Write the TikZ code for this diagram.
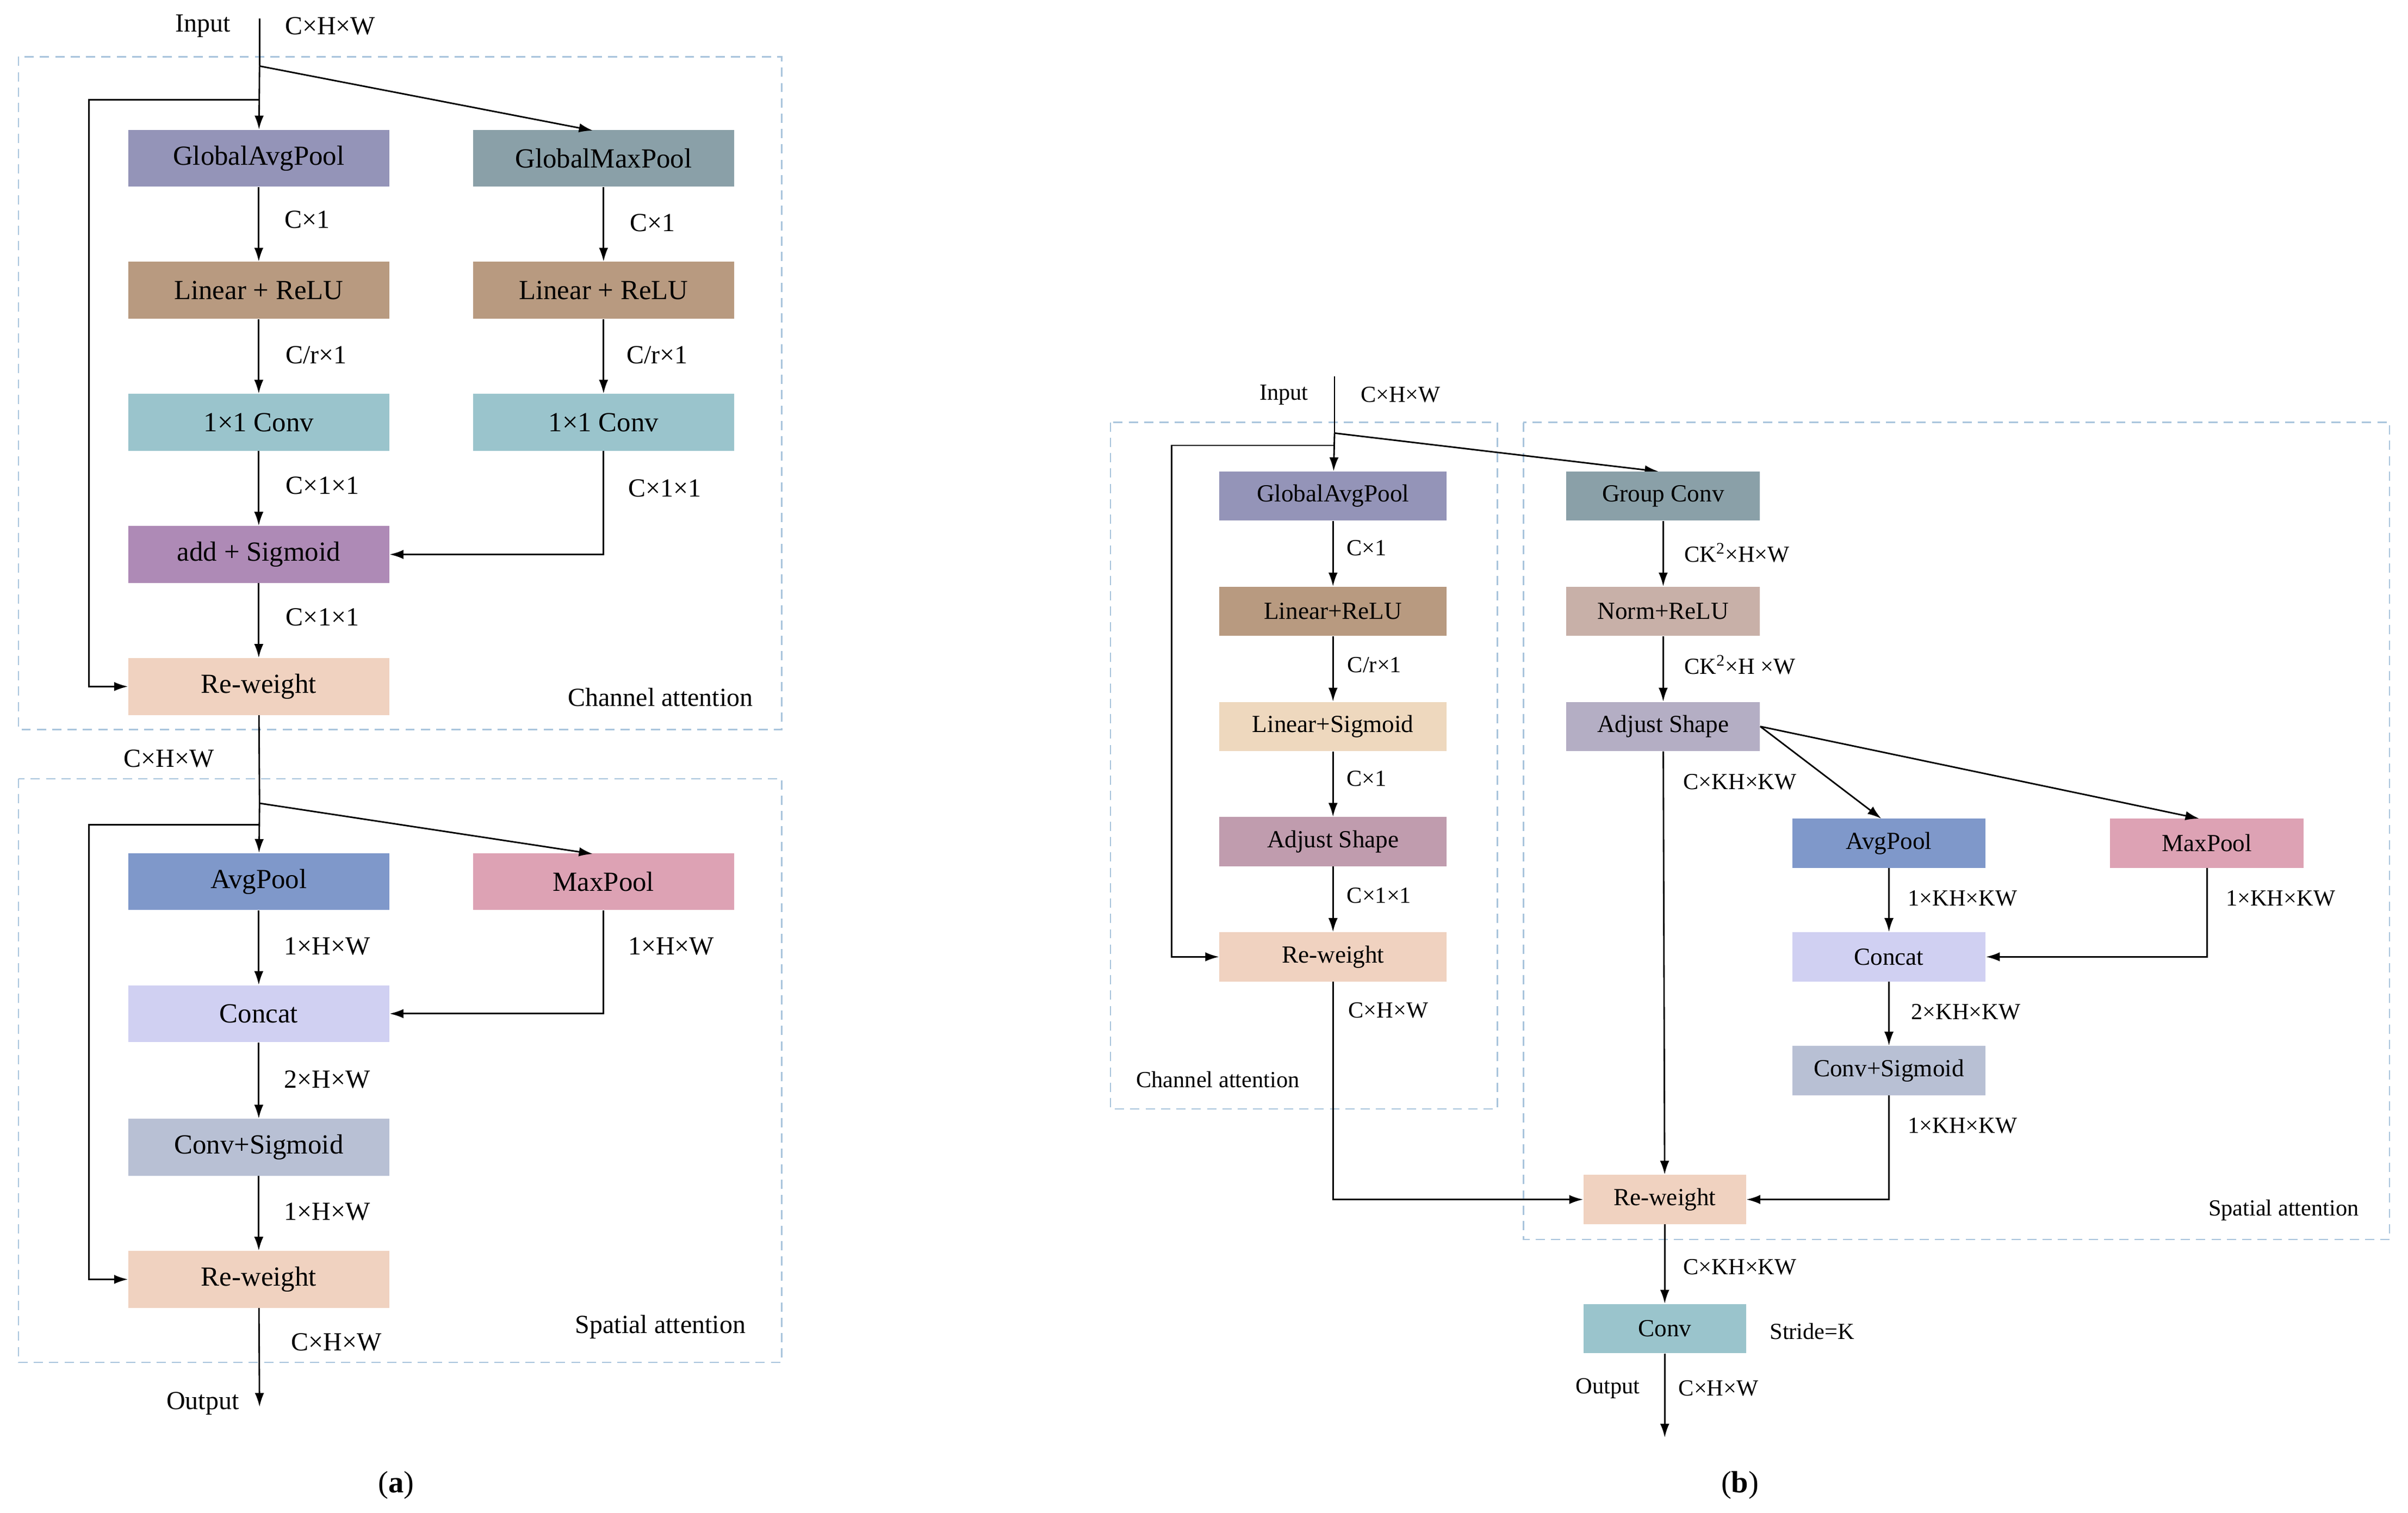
\documentclass[tikz,border=0pt]{standalone}
\usepackage{fontspec}
\setmainfont{Liberation Serif}
\usetikzlibrary{arrows.meta}
\begin{document}
\begin{tikzpicture}[x=1pt,y=-1pt,
 a/.style={draw=none,minimum width=170pt,minimum height=37pt,inner sep=0pt,font=\fontsize{18}{20}\selectfont},
 b/.style={draw=none,minimum width=148pt,minimum height=32pt,inner sep=0pt,font=\fontsize{16}{18}\selectfont},
 bs/.style={b,minimum width=126pt},
 la/.style={font=\fontsize{17}{19}\selectfont,inner sep=0pt},
 lb/.style={font=\fontsize{15}{17}\selectfont,inner sep=0pt},
 ar/.style={-{Latex[length=9pt,width=6pt]},line width=1pt},
 ln/.style={line width=1pt},
 dbox/.style={draw=dashc,dashed,dash pattern=on 6pt off 4pt,line width=0.8pt}]
\definecolor{dashc}{HTML}{A8C4DC}
\definecolor{cgap}{HTML}{9494B8}\definecolor{cgmp}{HTML}{8AA0A8}
\definecolor{clin}{HTML}{B89A80}\definecolor{cconv}{HTML}{9AC4CC}
\definecolor{cadd}{HTML}{AE8AB6}\definecolor{crw}{HTML}{F0D2C0}
\definecolor{cap}{HTML}{7F98CA}\definecolor{cmp}{HTML}{DDA2B4}
\definecolor{ccat}{HTML}{D0D0F2}\definecolor{ccs}{HTML}{B8C0D4}
\definecolor{cls}{HTML}{EED8BE}\definecolor{cadj}{HTML}{C09CAE}
\definecolor{cnr}{HTML}{C8B0A8}\definecolor{cadj2}{HTML}{B4AEC4}
\useasboundingbox (0,0) rectangle (1568,985);
% ---------- panel a ----------
\draw[dbox] (12,37) rectangle (509,475);
\draw[dbox] (12,507) rectangle (509,887);
\node[la] (inA) at (132,17) {Input};
\node[la] at (215,17) {C×H×W};
\coordinate (a0) at (169,12);
\coordinate (a1) at (169,43);
\coordinate (a2) at (169,65);
\node[a,fill=cgap] (gap) at (168.5,103) {GlobalAvgPool};
\node[a,fill=cgmp] (gmp) at (393,103) {GlobalMaxPool};
\node[a,fill=clin] (lin1) at (168.5,189) {Linear + ReLU};
\node[a,fill=clin] (lin2) at (393,189) {Linear + ReLU};
\node[a,fill=cconv] (cv1) at (168.5,275) {1×1 Conv};
\node[a,fill=cconv] (cv2) at (393,275) {1×1 Conv};
\node[a,fill=cadd] (add) at (168.5,361) {add + Sigmoid};
\node[a,fill=crw] (rw1) at (168.5,447) {Re-weight};
\draw[ln] (a0) -- (a1);
\draw[ar] (a1) -- (gap);
\draw[ar] (a1) -- (386,85);
\draw[ar] (a2) -- (58,65) -- (58,447) -- (rw1.west);
\draw[ar] (gap) -- (lin1); \draw[ar] (lin1) -- (cv1); \draw[ar] (cv1) -- (add); \draw[ar] (add) -- (rw1);
\draw[ar] (gmp) -- (lin2); \draw[ar] (lin2) -- (cv2);
\draw[ar] (cv2.south) -- (393,361) -- (add.east);
\node[la] at (200,143) {C×1}; \node[la] at (425,145) {C×1};
\node[la] at (206,231) {C/r×1}; \node[la] at (428,231) {C/r×1};
\node[la] at (210,316) {C×1×1}; \node[la] at (433,318) {C×1×1};
\node[la] at (210,402) {C×1×1};
\node[la] at (430,454) {Channel attention};
\node[la] at (110,494) {C×H×W};
\coordinate (b1) at (169,523); \coordinate (b2) at (169,537);
\node[a,fill=cap] (ap) at (168.5,574) {AvgPool};
\node[a,fill=cmp] (mp) at (393,574) {MaxPool};
\node[a,fill=ccat] (cat) at (168.5,660) {Concat};
\node[a,fill=ccs] (cs) at (168.5,747) {Conv+Sigmoid};
\node[a,fill=crw] (rw2) at (168.5,833) {Re-weight};
\draw[ln] (rw1) -- (b1);
\draw[ar] (b1) -- (ap);
\draw[ar] (b1) -- (386,556);
\draw[ar] (b2) -- (58,537) -- (58,833) -- (rw2.west);
\draw[ar] (ap) -- (cat); \draw[ar] (cat) -- (cs); \draw[ar] (cs) -- (rw2);
\draw[ar] (mp.south) -- (393,660) -- (cat.east);
\coordinate (outA) at (169,916);
\draw[ar] (rw2) -- (outA);
\node[la] at (213,616) {1×H×W}; \node[la] at (437,616) {1×H×W};
\node[la] at (213,703) {2×H×W}; \node[la] at (213,789) {1×H×W};
\node[la] at (219,874) {C×H×W};
\node[la] at (430,864) {Spatial attention};
\node[la] at (132,914) {Output};
\node[font=\fontsize{20}{22}\selectfont] at (258,967) {(\textbf{a})};
% ---------- panel b ----------
\draw[dbox] (723,275) rectangle (975,722);
\draw[dbox] (992,275) rectangle (1556,807);
\node[lb] at (836,257) {Input};
\node[lb] at (912,257) {C×H×W};
\coordinate (c0) at (869,245); \coordinate (c1) at (869,282); \coordinate (c2) at (869,290);
\node[b,fill=cgap] (bgap) at (868,323) {GlobalAvgPool};
\node[b,fill=clin] (blin) at (868,398) {Linear+ReLU};
\node[b,fill=cls] (bls) at (868,473) {Linear+Sigmoid};
\node[b,fill=cadj] (badj) at (868,548) {Adjust Shape};
\node[b,fill=crw] (brw) at (868,623) {Re-weight};
\draw[ln] (c0) -- (c1);
\draw[ar] (c1) -- (bgap);
\draw[ar] (c1) -- (1080,307);
\draw[ar] (c2) -- (763,290) -- (763,623) -- (brw.west);
\draw[ar] (bgap) -- (blin); \draw[ar] (blin) -- (bls); \draw[ar] (bls) -- (badj); \draw[ar] (badj) -- (brw);
\node[lb] at (890,357) {C×1}; \node[lb] at (895,433) {C/r×1};
\node[lb] at (890,507) {C×1}; \node[lb] at (898,583) {C×1×1};
\node[lb] at (904,658) {C×H×W};
\node[lb] at (793,703) {Channel attention};
\node[bs,fill=cgmp] (gc) at (1083,323) {Group Conv};
\node[bs,fill=cnr] (nr) at (1083,398) {Norm+ReLU};
\node[bs,fill=cadj2] (adj2) at (1083,473) {Adjust Shape};
\node[bs,fill=cap] (bap) at (1230,549) {AvgPool};
\node[bs,fill=cmp] (bmp) at (1437,549) {MaxPool};
\node[bs,fill=ccat] (bcat) at (1230,623) {Concat};
\node[bs,fill=ccs] (bcs) at (1230,697) {Conv+Sigmoid};
\node[b,minimum width=106pt,fill=crw] (brw2) at (1084,781) {Re-weight};
\node[b,minimum width=106pt,fill=cconv] (bconv) at (1084,865) {Conv};
\draw[ar] (gc) -- (nr); \draw[ar] (nr) -- (adj2);
\draw[ar] (adj2.east) -- (1225,533);
\draw[ar] (adj2.east) -- (1432,533);
\draw[ar] (bap) -- (bcat); \draw[ar] (bcat) -- (bcs);
\draw[ar] (bmp.south) -- (1437,623) -- (bcat.east);
\draw[ar] (adj2) -- (brw2);
\draw[ar] (bcs.south) -- (1230,781) -- (brw2.east);
\draw[ar] (brw.south) -- (868,781) -- (brw2.west);
\draw[ar] (brw2) -- (bconv);
\coordinate (outB) at (1084,936);
\draw[ar] (bconv) -- (outB);
\node[lb] at (1131,360) {CK\textsuperscript{2}×H×W};
\node[lb] at (1133,433) {CK\textsuperscript{2}×H ×W};
\node[lb] at (1133,509) {C×KH×KW};
\node[lb] at (1278,585) {1×KH×KW}; \node[lb] at (1485,585) {1×KH×KW};
\node[lb] at (1280,659) {2×KH×KW}; \node[lb] at (1278,733) {1×KH×KW};
\node[lb] at (1487,788) {Spatial attention};
\node[lb] at (1133,825) {C×KH×KW};
\node[lb] at (1180,867) {Stride=K};
\node[lb] at (1047,904) {Output}; \node[lb] at (1119,904) {C×H×W};
\node[font=\fontsize{20}{22}\selectfont] at (1133,967) {(\textbf{b})};
\end{tikzpicture}
\end{document}
